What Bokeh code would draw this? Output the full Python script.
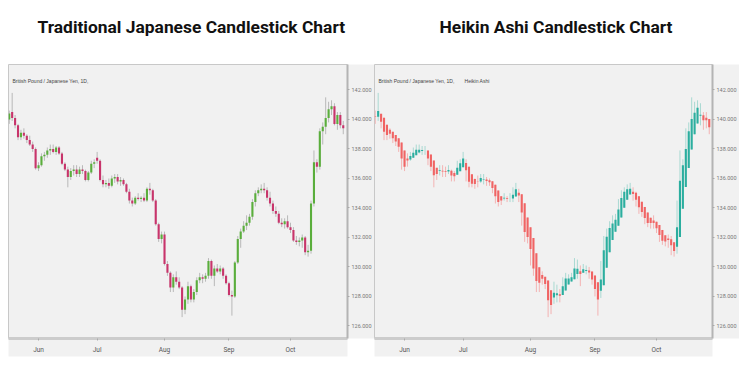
import pandas as pd
from bokeh.plotting import figure
from bokeh.models import Range1d, FixedTicker, PrintfTickFormatter, Label, ColumnDataSource, Title
from bokeh.layouts import row
from bokeh.embed import file_html
from bokeh.resources import INLINE

# ---------------- data (GBP/JPY daily) ----------------
start_date = "2019-05-20"
end_date = "2019-10-25"

opens = [140.0, 140.5, 140.1, 139.6, 138.8, 139.1, 138.9, 138.6, 138.3, 138.0,
         136.7, 136.9, 137.5, 137.6, 137.9, 138.0, 137.8, 138.1, 137.7, 137.0,
         136.6, 136.1, 136.5, 136.6, 136.3, 136.6, 136.5, 135.9, 136.4, 137.0,
         137.4, 137.2, 135.9, 135.6, 135.7, 135.5, 136.0, 136.1, 135.8, 135.9,
         135.6, 135.1, 134.5, 134.3, 134.7, 134.6, 134.7, 134.5, 135.3, 135.2,
         134.5, 132.9, 131.9, 132.2, 130.2, 129.6, 128.6, 129.3, 129.0, 128.6,
         127.1, 127.8, 128.7, 127.8, 128.3, 129.1, 129.3, 129.2, 129.4, 130.4,
         129.4, 129.9, 129.7, 129.9, 129.4, 128.9, 128.1, 128.0, 130.3, 131.9,
         132.4, 132.8, 133.0, 133.4, 134.4, 135.0, 135.2, 135.3, 135.2, 134.7,
         134.3, 133.8, 133.6, 133.0, 132.9, 133.1, 132.7, 132.5, 131.8, 131.7,
         131.8, 132.0, 131.0, 131.1, 134.3, 137.1, 136.8, 139.2, 139.5, 140.1,
         140.7, 140.9, 139.7, 140.3, 139.6]
highs = [140.6, 141.8, 140.3, 139.7, 139.3, 139.4, 139.0, 138.9, 138.5, 138.1,
         137.1, 137.7, 137.8, 138.1, 138.3, 138.3, 138.2, 138.2, 137.8, 137.1,
         136.8, 136.7, 136.9, 136.9, 136.8, 136.9, 136.6, 136.5, 137.2, 137.3,
         137.8, 137.3, 136.2, 135.9, 136.0, 136.2, 136.3, 136.3, 136.1, 136.0,
         135.7, 135.3, 134.7, 134.8, 135.0, 134.8, 135.0, 135.4, 135.7, 135.3,
         134.6, 133.0, 132.4, 132.4, 130.4, 129.7, 129.5, 129.7, 129.3, 128.7,
         128.0, 129.0, 128.8, 128.5, 129.3, 129.6, 129.5, 129.6, 130.6, 130.5,
         130.1, 130.2, 130.1, 130.0, 129.5, 129.0, 128.4, 130.4, 132.1, 132.6,
         133.1, 133.5, 133.6, 134.6, 135.2, 135.4, 135.6, 135.7, 135.4, 135.1,
         134.5, 134.1, 133.8, 133.3, 133.3, 133.5, 133.0, 132.7, 132.1, 132.0,
         132.2, 132.1, 131.5, 134.5, 137.9, 137.3, 139.4, 139.8, 141.5, 141.2,
         141.3, 141.1, 140.5, 140.5, 139.9]
lows = [139.7, 139.9, 139.4, 138.6, 138.6, 138.7, 138.4, 138.2, 137.8, 136.6,
        136.5, 136.8, 137.2, 137.4, 137.6, 137.7, 137.6, 137.6, 136.9, 136.5,
        135.4, 135.9, 136.2, 136.1, 136.1, 136.3, 135.8, 135.8, 136.3, 136.7,
        137.0, 135.8, 135.4, 135.4, 135.3, 135.4, 135.7, 135.6, 135.5, 135.5,
        135.0, 134.3, 134.1, 134.2, 134.5, 134.4, 134.4, 134.4, 134.9, 134.4,
        132.8, 131.7, 131.6, 130.1, 129.4, 128.3, 128.3, 128.8, 128.5, 126.6,
        126.8, 127.5, 127.6, 127.6, 128.1, 128.9, 128.9, 129.0, 129.2, 129.2,
        128.7, 129.6, 129.5, 129.2, 128.8, 128.0, 126.7, 127.9, 130.2, 131.3,
        132.3, 132.5, 132.8, 133.2, 134.1, 134.8, 135.0, 135.0, 134.5, 134.1,
        133.6, 133.4, 132.9, 132.7, 132.6, 132.6, 132.3, 131.7, 131.5, 131.4,
        131.3, 130.8, 130.7, 130.9, 134.1, 136.4, 136.6, 138.3, 139.0, 139.8,
        140.3, 139.6, 139.3, 139.4, 139.0]
closes = [140.4, 140.1, 139.6, 138.8, 139.1, 138.9, 138.6, 138.3, 138.0, 136.7,
          136.9, 137.5, 137.6, 137.9, 138.0, 137.8, 138.1, 137.7, 137.0, 136.6,
          136.1, 136.5, 136.6, 136.3, 136.6, 136.5, 135.9, 136.4, 137.0, 137.1,
          137.2, 135.9, 135.6, 135.7, 135.5, 136.0, 136.1, 135.8, 135.9, 135.6,
          135.1, 134.5, 134.3, 134.7, 134.6, 134.7, 134.5, 135.3, 135.2, 134.5,
          132.9, 131.9, 132.2, 130.2, 129.6, 128.6, 129.3, 129.0, 128.6, 127.1,
          127.8, 128.7, 127.8, 128.3, 129.1, 129.3, 129.2, 129.4, 130.4, 129.4,
          129.9, 129.7, 129.9, 129.4, 128.9, 128.1, 128.0, 130.3, 131.9, 132.4,
          132.8, 133.0, 133.4, 134.4, 135.0, 135.2, 135.3, 135.2, 134.7, 134.3,
          133.8, 133.6, 133.0, 132.9, 133.1, 132.7, 132.5, 131.8, 131.7, 131.8,
          132.0, 131.0, 131.1, 134.3, 137.1, 136.8, 139.2, 139.5, 140.1, 140.7,
          140.9, 139.7, 140.3, 139.6, 139.4]

month_labels = ["Jun", "Jul", "Aug", "Sep", "Oct"]
y_ticks = [126, 128, 130, 132, 134, 136, 138, 140, 142]

titles = ["Traditional Japanese Candlestick Chart", "Heikin Ashi Candlestick Chart"]
symbol_text = "British Pound / Japanese Yen, 1D,"
ha_text = "Heikin Ashi"

# ---------------- derived ----------------
dates = pd.bdate_range(start_date, end_date)
idx = list(range(len(dates)))
month_ticks = []
for m in [6, 7, 8, 9, 10]:
    month_ticks.append(next(i for i, d in enumerate(dates) if d.month == m))

# Heikin Ashi transform of the same candles
ha_c = [(o + h + l + c) / 4 for o, h, l, c in zip(opens, highs, lows, closes)]
ha_o = [(opens[0] + closes[0]) / 2]
for i in range(1, len(opens)):
    ha_o.append((ha_o[i - 1] + ha_c[i - 1]) / 2)
ha_h = [max(h, o, c) for h, o, c in zip(highs, ha_o, ha_c)]
ha_l = [min(l, o, c) for l, o, c in zip(lows, ha_o, ha_c)]

BG = "#f1f1f1"
PX_PER_BAR = 2.93
PX_PER_UNIT = 14.75
TOP, BOTTOM = 64, 40
FRAME_H = 274


def panel(title, title_off, o, h, l, c, up, dn, up_w, dn_w, left_border, frame_w,
          right_border, extra_label=None):
    x0 = -0.25
    y0 = 125.15
    p = figure(frame_width=frame_w, frame_height=FRAME_H, title=None,
               output_backend="svg", toolbar_location=None,
               y_axis_location="right",
               x_range=Range1d(x0, x0 + frame_w / PX_PER_BAR),
               y_range=Range1d(y0, y0 + FRAME_H / PX_PER_UNIT),
               min_border_left=left_border, min_border_right=right_border,
               min_border_top=TOP, min_border_bottom=BOTTOM)
    p.background_fill_color = BG
    p.border_fill_color = "white"
    p.outline_line_color = "#c8c8c8"
    p.xgrid.grid_line_color = None
    p.ygrid.grid_line_color = None

    # spacer (closest to the frame) then the chart title above it
    p.add_layout(Title(text=" ", text_font_size="10px"), "above")
    p.add_layout(Title(text=title, align="left", offset=title_off,
                       text_font="Roboto", text_font_size="17.4px",
                       text_font_style="bold", text_color="#111111"), "above")

    cols = [up if cc >= oo else dn for oo, cc in zip(o, c)]
    wcols = [up_w if cc >= oo else dn_w for oo, cc in zip(o, c)]
    src = ColumnDataSource(dict(x=idx, o=o, h=h, l=l, c=c,
                                top=[max(a, b) for a, b in zip(o, c)],
                                bot=[min(a, b) for a, b in zip(o, c)],
                                col=cols, wcol=wcols))
    p.segment(x0="x", y0="l", x1="x", y1="h", line_color="wcol", line_width=1, source=src)
    p.vbar(x="x", width=0.72, top="top", bottom="bot", fill_color="col", line_color=None, source=src)

    # axes
    ax = p.yaxis[0]
    ax.ticker = FixedTicker(ticks=y_ticks)
    ax.formatter = PrintfTickFormatter(format="%.3f")
    ax.major_label_text_font = "Roboto"
    ax.major_label_text_font_size = "5.5px"
    ax.major_label_text_color = "#777777"
    ax.major_label_standoff = 2
    ax.axis_label_standoff = 0
    ax.major_tick_out = 2
    ax.major_tick_in = 0
    ax.minor_tick_out = 0
    ax.minor_tick_in = 0
    ax.major_tick_line_color = "#aaaaaa"
    ax.axis_line_color = "#b4b4b4"
    ax.axis_line_width = 2

    bx = p.xaxis[0]
    bx.ticker = FixedTicker(ticks=month_ticks)
    bx.major_label_overrides = {t: lab for t, lab in zip(month_ticks, month_labels)}
    bx.major_label_text_font = "Roboto"
    bx.major_label_text_font_size = "6.5px"
    bx.major_label_text_color = "#555555"
    bx.major_label_standoff = 5
    bx.axis_label_standoff = 0
    bx.major_tick_out = 2
    bx.major_tick_in = 0
    bx.minor_tick_out = 0
    bx.minor_tick_in = 0
    bx.major_tick_line_color = "#aaaaaa"
    bx.axis_line_color = "#cccccc"
    bx.axis_line_width = 3
    for a in (ax, bx):
        try:
            a.background_fill_color = BG
        except Exception:
            pass

    ylab = y0 + (FRAME_H - 16) / PX_PER_UNIT
    p.add_layout(Label(x=1.1, y=ylab, text=symbol_text, text_font_size="5px",
                       text_color="#444444", text_baseline="middle"))
    if extra_label:
        p.add_layout(Label(x=30.5, y=ylab, text=extra_label, text_font_size="5px",
                           text_color="#444444", text_baseline="middle"))
    return p


p1 = panel(titles[0], 29, opens, highs, lows, closes,
           "#5aae3c", "#c8346b", "#b8b8b8", "#b8b8b8", 8, 339, 26)
p2 = panel(titles[1], 65, ha_o, ha_h, ha_l, ha_c,
           "#2bae9f", "#f06464", "#a9d9d2", "#f3b3b3", 0, 338, 25, extra_label=ha_text)

layout = row(p1, p2)
open("out.html", "w").write(file_html(layout, INLINE))
